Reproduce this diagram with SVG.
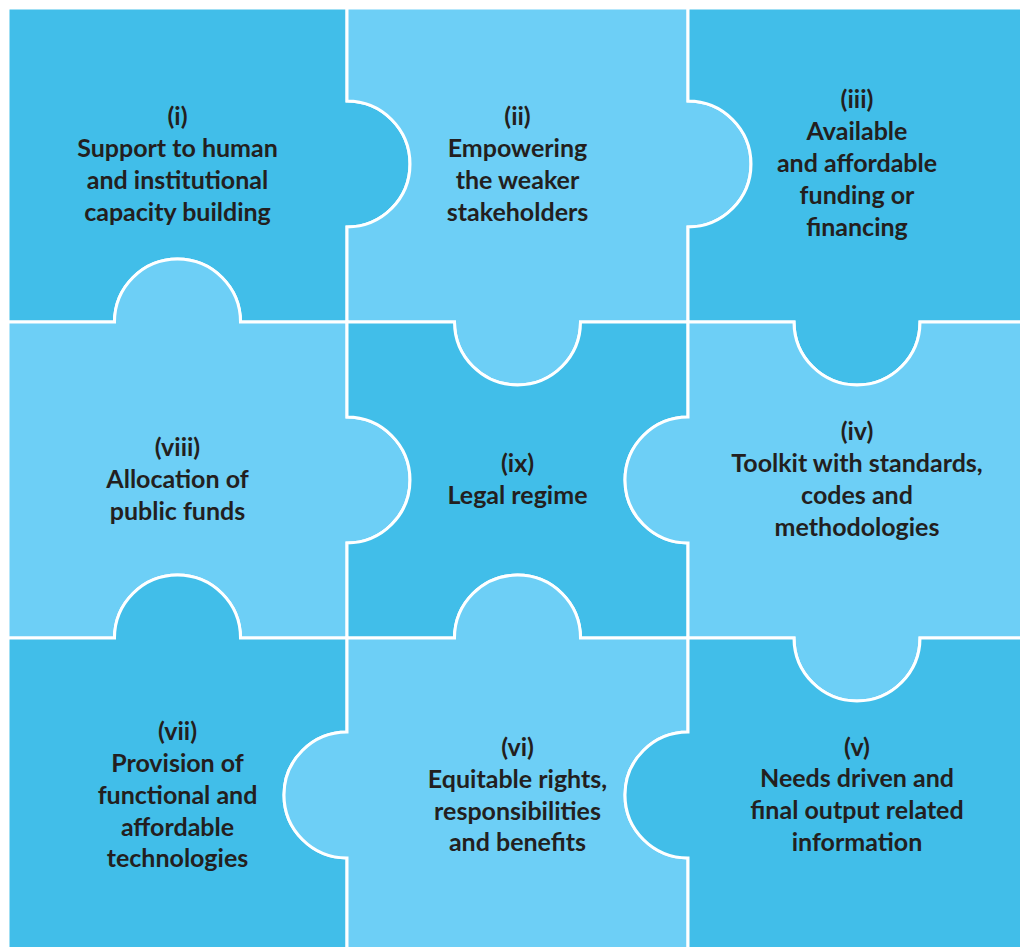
<svg xmlns="http://www.w3.org/2000/svg" width="1020" height="947" viewBox="0 0 1020 947">
  <style>
    .piece { stroke: #ffffff; stroke-width: 3; stroke-linejoin: miter; }
    .dark { fill: #41BEE9; }
    .light { fill: #6DCFF6; }
    .label { font-family: "Lato", "Liberation Sans", sans-serif; font-weight: 700; font-size: 25px; fill: #231F20; text-anchor: middle; }
  </style>
  <rect x="0" y="0" width="1020" height="947" fill="#ffffff"/>

  <!-- Row 1 -->
  <g id="piece-i">
    <path class="piece dark" d="M8,8 H347 V101 A63,63 0 0 1 347,227 V322 H240.5 A63,63 0 0 0 114.5,322 H8 Z"/>
    <text class="label" x="177.5" y="125">(i)</text>
    <text class="label" x="177.5" y="157">Support to human</text>
    <text class="label" x="177.5" y="189">and institutional</text>
    <text class="label" x="177.5" y="221">capacity building</text>
  </g>
  <g id="piece-ii">
    <path class="piece light" d="M347,8 H688 V101 A63,63 0 0 1 688,227 V322 H580.5 A63,63 0 0 1 454.5,322 H347 V227 A63,63 0 0 0 347,101 Z"/>
    <text class="label" x="517.5" y="125">(ii)</text>
    <text class="label" x="517.5" y="157">Empowering</text>
    <text class="label" x="517.5" y="189">the weaker</text>
    <text class="label" x="517.5" y="221">stakeholders</text>
  </g>
  <g id="piece-iii">
    <path class="piece dark" d="M688,8 H1025 V322 H920 A63,63 0 0 1 794,322 H688 V227 A63,63 0 0 0 688,101 Z"/>
    <text class="label" x="857" y="108">(iii)</text>
    <text class="label" x="857" y="140">Available</text>
    <text class="label" x="857" y="172">and affordable</text>
    <text class="label" x="857" y="204">funding or</text>
    <text class="label" x="857" y="236">financing</text>
  </g>

  <!-- Row 2 -->
  <g id="piece-viii">
    <path class="piece light" d="M8,322 H114.5 A63,63 0 0 1 240.5,322 H347 V417 A63,63 0 0 1 347,543 V638 H240.5 A63,63 0 0 0 114.5,638 H8 Z"/>
    <text class="label" x="177.5" y="456">(viii)</text>
    <text class="label" x="177.5" y="488">Allocation of</text>
    <text class="label" x="177.5" y="520">public funds</text>
  </g>
  <g id="piece-ix">
    <path class="piece dark" d="M347,322 H454.5 A63,63 0 0 0 580.5,322 H688 V417 A63,63 0 0 0 688,543 V638 H580.5 A63,63 0 0 0 454.5,638 H347 V543 A63,63 0 0 0 347,417 Z"/>
    <text class="label" x="517.5" y="472">(ix)</text>
    <text class="label" x="517.5" y="504">Legal regime</text>
  </g>
  <g id="piece-iv">
    <path class="piece light" d="M688,322 H794 A63,63 0 0 0 920,322 H1025 V638 H920 A63,63 0 0 1 794,638 H688 V543 A63,63 0 0 1 688,417 Z"/>
    <text class="label" x="857" y="440">(iv)</text>
    <text class="label" x="857" y="472">Toolkit with standards,</text>
    <text class="label" x="857" y="504">codes and</text>
    <text class="label" x="857" y="536">methodologies</text>
  </g>

  <!-- Row 3 -->
  <g id="piece-vii">
    <path class="piece dark" d="M8,638 H114.5 A63,63 0 0 1 240.5,638 H347 V732 A63,63 0 0 0 347,858 V952 H8 Z"/>
    <text class="label" x="177.5" y="740">(vii)</text>
    <text class="label" x="177.5" y="772">Provision of</text>
    <text class="label" x="177.5" y="804">functional and</text>
    <text class="label" x="177.5" y="836">affordable</text>
    <text class="label" x="177.5" y="867">technologies</text>
  </g>
  <g id="piece-vi">
    <path class="piece light" d="M347,638 H454.5 A63,63 0 0 1 580.5,638 H688 V732 A63,63 0 0 0 688,858 V952 H347 V858 A63,63 0 0 1 347,732 Z"/>
    <text class="label" x="517.5" y="756">(vi)</text>
    <text class="label" x="517.5" y="788">Equitable rights,</text>
    <text class="label" x="517.5" y="820">responsibilities</text>
    <text class="label" x="517.5" y="851">and benefits</text>
  </g>
  <g id="piece-v">
    <path class="piece dark" d="M688,638 H794 A63,63 0 0 0 920,638 H1025 V952 H688 V858 A63,63 0 0 1 688,732 Z"/>
    <text class="label" x="857" y="756">(v)</text>
    <text class="label" x="857" y="787">Needs driven and</text>
    <text class="label" x="857" y="819">final output related</text>
    <text class="label" x="857" y="851">information</text>
  </g>
</svg>
